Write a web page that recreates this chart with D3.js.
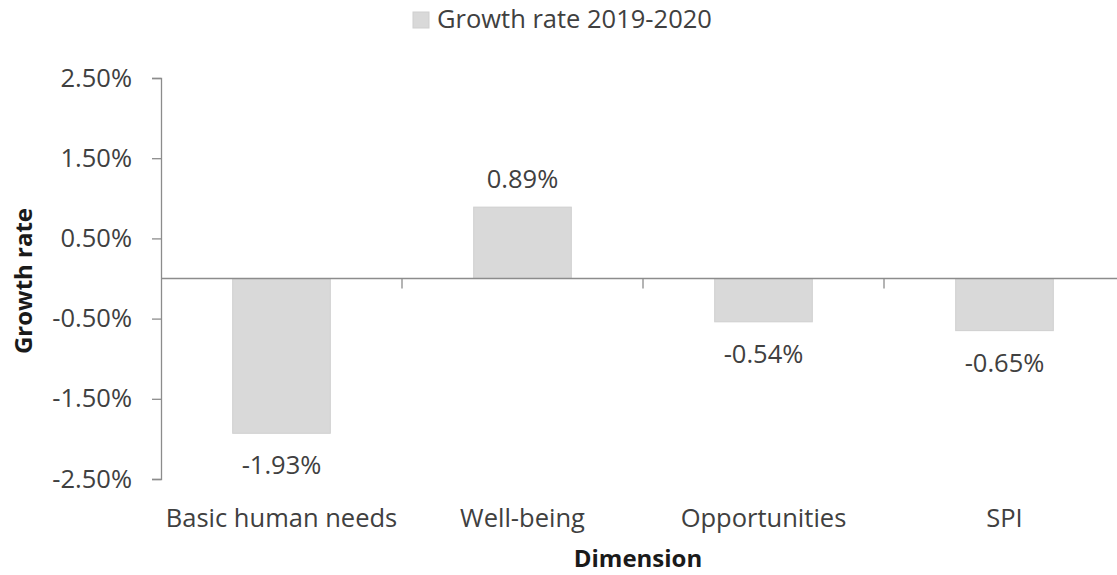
<!DOCTYPE html>
<html>
<head>
<meta charset="utf-8">
<script src="https://cdn.jsdelivr.net/npm/d3@7"></script>
<style>
  html, body { margin: 0; padding: 0; background: #fff; }
  svg { display: block; }
  text { font-family: "Open Sans", "Noto Sans", sans-serif; fill: #404040; }
</style>
</head>
<body>
<svg id="chart" width="1117" height="575"></svg>
<script>
// Growth rate of each SPI dimension, 2019-2020 (percent)
const categories = ["Basic human needs", "Well-being", "Opportunities", "SPI"];
const growthRates = [-1.93, 0.89, -0.54, -0.65];
const yTicks = [-2.5, -1.5, -0.5, 0.5, 1.5, 2.5];
const seriesName = "Growth rate 2019-2020";
const xTitle = "Dimension";
const yTitle = "Growth rate";

(function drawChart() {
  const svg = d3.select("#chart");
  const plotLeft = 161, plotRight = 1125, plotTop = 78, plotBottom = 479;
  const fontSize = 25.5;

  const x = d3.scaleBand().domain(categories).range([plotLeft, plotRight])
    .paddingInner(0.595).paddingOuter(0.2975);
  const y = d3.scaleLinear().domain([-2.5, 2.5]).range([plotBottom, plotTop]);
  const fmt = v => v.toFixed(2) + "%";

  const axisColor = "#8c8c8c";

  // Bars
  svg.append("g").selectAll("rect").data(growthRates).join("rect")
    .attr("x", (d, i) => x(categories[i]))
    .attr("width", x.bandwidth())
    .attr("y", d => y(Math.max(0, d)))
    .attr("height", d => Math.abs(y(d) - y(0)))
    .attr("fill", "#d9d9d9")
    .attr("stroke", "#cfcfcf")
    .attr("stroke-width", 1);

  // Y axis
  const yAxis = svg.append("g").attr("transform", `translate(${plotLeft},0)`)
    .call(d3.axisLeft(y).tickValues(yTicks).tickFormat(fmt).tickSize(9).tickPadding(20));
  yAxis.select(".domain").attr("stroke", axisColor).attr("stroke-width", 1.3);
  yAxis.selectAll(".tick line").attr("stroke", axisColor).attr("stroke-width", 1.3);
  yAxis.selectAll(".tick text").attr("font-size", fontSize).attr("fill", "#404040")
    .attr("font-family", "\"Open Sans\", sans-serif");

  // Zero line with category separators
  const half = x.step() * x.paddingInner() / 2;
  const sepTicks = categories.slice(1).map(c => x(c) - half);
  svg.append("line")
    .attr("x1", plotLeft).attr("x2", 1117)
    .attr("y1", y(0)).attr("y2", y(0))
    .attr("stroke", axisColor).attr("stroke-width", 1.3);
  svg.append("g").selectAll("line").data(sepTicks).join("line")
    .attr("x1", d => d).attr("x2", d => d)
    .attr("y1", y(0)).attr("y2", y(0) + 10)
    .attr("stroke", axisColor).attr("stroke-width", 1.3);

  // Value labels
  svg.append("g").selectAll("text").data(growthRates).join("text")
    .attr("x", (d, i) => x(categories[i]) + x.bandwidth() / 2)
    .attr("y", d => d >= 0 ? y(d) - 19 : y(d) + 41)
    .attr("text-anchor", "middle")
    .attr("font-size", fontSize)
    .text(fmt);

  // Category labels
  svg.append("g").selectAll("text").data(categories).join("text")
    .attr("x", d => x(d) + x.bandwidth() / 2)
    .attr("y", 527)
    .attr("text-anchor", "middle")
    .attr("font-size", fontSize)
    .text(d => d);

  // Axis titles
  svg.append("text")
    .attr("x", 638).attr("y", 567)
    .attr("text-anchor", "middle")
    .attr("font-size", 24).attr("font-weight", "bold").style("fill", "#1a1a1a")
    .text(xTitle);
  svg.append("text")
    .attr("transform", `translate(32,281) rotate(-90)`)
    .attr("text-anchor", "middle")
    .attr("font-size", 24).attr("font-weight", "bold").style("fill", "#1a1a1a")
    .text(yTitle);

  // Legend
  const legend = svg.append("g");
  legend.append("rect").attr("x", 413).attr("y", 12).attr("width", 16).attr("height", 16)
    .attr("fill", "#d9d9d9").attr("stroke", "#cfcfcf");
  legend.append("text").attr("x", 437).attr("y", 28).attr("font-size", fontSize).text(seriesName);
})();
</script>
</body>
</html>
